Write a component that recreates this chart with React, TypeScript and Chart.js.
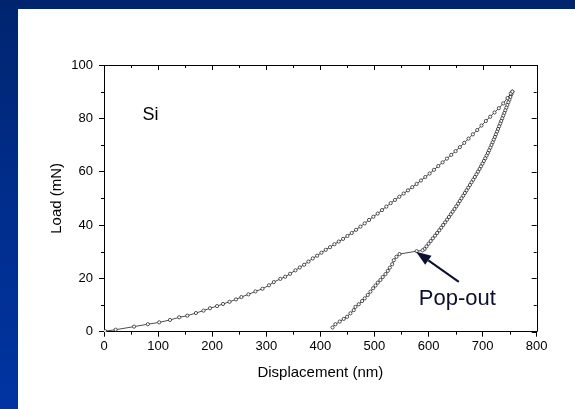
import React, { useEffect, useRef } from "react";
import { Chart, registerables } from "chart.js";

Chart.register(...registerables);

const xTickValues = [0, 100, 200, 300, 400, 500, 600, 700, 800];
const yTickValues = [0, 20, 40, 60, 80, 100];
const xAxisTitle = "Displacement (nm)";
const yAxisTitle = "Load (mN)";

const loadingDisplacement = [
  0, 2, 21.6, 55.5, 81, 102, 122, 139, 154, 170, 184, 196, 209, 220, 232, 244, 254, 267, 280, 293, 305, 314, 326, 335, 344, 354, 362,
  370, 378, 386, 394, 402, 410, 418, 426, 434, 442, 450, 458, 466, 474, 482, 490, 498, 506, 514, 522, 530, 538, 546, 554, 562, 570,
  578, 586, 594, 602, 610, 618, 626, 634, 642, 650, 658, 666, 674, 682, 690, 698, 706, 714, 722, 730, 738, 746, 752, 755,
];
const loadingLoad = [
  0, 0.2, 0.75, 1.9, 2.8, 3.5, 4.4, 5.4, 6.0, 7.0, 7.9, 8.8, 9.6, 10.4, 11.2, 12.1, 13.0, 14.0, 15.1, 16.1, 17.4, 18.6, 19.8, 20.6, 21.7, 23.0, 24.1,
  25.1, 26.3, 27.5, 28.5, 29.6, 30.7, 31.7, 32.8, 33.8, 34.8, 35.9, 37.0, 38.2, 39.4, 40.6, 41.9, 43.1, 44.3, 45.6, 46.9, 48.2, 49.4, 50.6, 51.8, 53.0, 54.2,
  55.4, 56.7, 58.0, 59.3, 60.7, 62.1, 63.5, 64.9, 66.3, 67.7, 69.2, 70.8, 72.4, 74.0, 75.6, 77.3, 79.0, 80.6, 82.2, 83.8, 85.6, 87.6, 89.3, 90.0,
];

const unloadingDisplacement = [
  755, 753.2, 751.3, 749.5, 747.6, 745.7, 743.9, 742.0, 740.1, 738.2, 736.3, 734.4, 732.5, 730.5, 728.5, 726.6, 724.6, 722.6, 720.6,
  718.5, 716.4, 714.3, 712.0, 709.7, 707.3, 704.8, 702.3, 699.7, 697.0, 694.3, 691.4, 688.5, 685.6, 682.6, 679.5, 676.5, 673.4, 670.3,
  667.2, 664.1, 660.9, 657.8, 654.6, 651.3, 648.0, 644.6, 641.2, 637.7, 634.2, 630.7, 627.1, 623.4, 619.7, 615.9, 612.0, 608.0, 604.0,
  600.1, 596.3, 592.6, 589, 578,
  546.3, 540.7, 535.8, 532.8, 528.4, 524.7, 520.4, 515.4, 511.1, 506.2, 501.9, 497.6, 492.6, 487.7, 482.1, 477.2, 471, 464.8, 461.7,
  455.6, 449.4, 443.2, 435.8, 427.8, 422.5,
];
const unloadingLoad = [
  90, 89, 88, 87, 86, 85, 84, 83, 82, 81, 80, 79, 78, 77, 76, 75, 74, 73, 72,
  71, 70, 69, 68, 67, 66, 65, 64, 63, 62, 61, 60, 59, 58, 57, 56, 55, 54, 53,
  52, 51, 50, 49, 48, 47, 46, 45, 44, 43, 42, 41, 40, 39, 38, 37, 36, 35, 34,
  33, 32, 31, 30.5, 30.2,
  29.1, 28.1, 26.8, 25.3, 24.0, 22.8, 21.6, 20.5, 19.4, 18.4, 17.3, 16.3, 15.0, 13.8, 12.5, 11.5, 10.3, 9.3, 8.1,
  6.9, 5.6, 4.8, 3.8, 2.8, 1.6,
];

const sampleLabel = "Si";
const sampleLabelAt = { x: 71, y: 79.4 };
const popOutLabel = "Pop-out";
const popOutLabelAt = { x: 582, y: 10.0 };
const popOutArrowTip = { x: 577, y: 30.0 };
const popOutArrowTail = { x: 656, y: 18.7 };

const FONT = "'Liberation Sans', Arial, Helvetica, sans-serif";

const decorPlugin = {
  id: "decor",
  afterDraw(chart: any) {
    const { ctx, chartArea: a, scales } = chart;
    const x = scales.x;
    const y = scales.y;
    ctx.save();
    ctx.strokeStyle = "#000";
    ctx.lineWidth = 1;
    ctx.beginPath();
    ctx.moveTo(a.left, Math.round(a.top) + 0.5);
    ctx.lineTo(Math.round(a.right) + 0.5, Math.round(a.top) + 0.5);
    ctx.lineTo(Math.round(a.right) + 0.5, a.bottom);
    ctx.stroke();

    ctx.beginPath();
    for (let v = 0; v <= 800; v += 50) {
      const px = Math.round(x.getPixelForValue(v)) + 0.5;
      const major = v % 100 === 0;
      if (!major) {
        ctx.moveTo(px, a.bottom);
        ctx.lineTo(px, a.bottom + 3);
      }
      ctx.moveTo(px, a.top);
      ctx.lineTo(px, a.top + (major ? 5 : 3));
    }
    for (let v = 0; v <= 100; v += 10) {
      const py = Math.round(y.getPixelForValue(v)) + 0.5;
      const major = v % 20 === 0;
      if (!major) {
        ctx.moveTo(a.left, py);
        ctx.lineTo(a.left - 3, py);
      }
      ctx.moveTo(a.right, py);
      ctx.lineTo(a.right - (major ? 5 : 3), py);
    }
    ctx.stroke();

    // labels
    ctx.fillStyle = "#000";
    ctx.font = `18px ${FONT}`;
    ctx.textAlign = "left";
    ctx.textBaseline = "alphabetic";
    ctx.fillText(sampleLabel, x.getPixelForValue(sampleLabelAt.x), y.getPixelForValue(sampleLabelAt.y));

    ctx.fillStyle = "#0b1030";
    ctx.font = `22px ${FONT}`;
    ctx.fillText(popOutLabel, x.getPixelForValue(popOutLabelAt.x), y.getPixelForValue(popOutLabelAt.y));

    // arrow
    const tx = x.getPixelForValue(popOutArrowTip.x);
    const ty = y.getPixelForValue(popOutArrowTip.y);
    const sx = x.getPixelForValue(popOutArrowTail.x);
    const sy = y.getPixelForValue(popOutArrowTail.y);
    const ang = Math.atan2(ty - sy, tx - sx);
    const headLen = 15;
    const headHalf = 5.5;
    const bx = tx - headLen * Math.cos(ang);
    const by = ty - headLen * Math.sin(ang);
    ctx.strokeStyle = "#0b1030";
    ctx.lineWidth = 2;
    ctx.beginPath();
    ctx.moveTo(sx, sy);
    ctx.lineTo(bx, by);
    ctx.stroke();
    ctx.beginPath();
    ctx.moveTo(tx, ty);
    ctx.lineTo(bx + headHalf * Math.sin(ang), by - headHalf * Math.cos(ang));
    ctx.lineTo(bx - headHalf * Math.sin(ang), by + headHalf * Math.cos(ang));
    ctx.closePath();
    ctx.fillStyle = "#0b1030";
    ctx.fill();
    ctx.restore();
  },
};

export default function App() {
  const canvasRef = useRef<HTMLCanvasElement | null>(null);

  useEffect(() => {
    if (!canvasRef.current) return;
    const loading = loadingDisplacement.map((h, i) => ({ x: h, y: loadingLoad[i] }));
    const unloading = unloadingDisplacement.map((h, i) => ({ x: h, y: unloadingLoad[i] }));
    const seriesStyle = {
      showLine: true,
      borderColor: "#000",
      borderWidth: 0.7,
      pointRadius: 1.6,
      pointBackgroundColor: "#fff",
      pointBorderColor: "#111",
      pointBorderWidth: 0.7,
      tension: 0,
    };
    const chart = new Chart(canvasRef.current, {
      type: "scatter",
      data: {
        datasets: [
          { label: "Loading", data: loading, ...seriesStyle },
          { label: "Unloading", data: unloading, ...seriesStyle },
        ],
      },
      plugins: [decorPlugin],
      options: {
        responsive: false,
        animation: false,
        layout: { padding: { top: 65, right: 38.3, left: 48, bottom: 27 } },
        plugins: { legend: { display: false }, tooltip: { enabled: false } },
        scales: {
          x: {
            type: "linear",
            min: 0,
            max: 800,
            afterBuildTicks: (scale: any) => {
              scale.ticks = xTickValues.map((v) => ({ value: v }));
            },
            afterFit: (scale: any) => {
              scale.height = 50.3;
            },
            ticks: { color: "#000", font: { family: FONT, size: 13 }, padding: 2, maxRotation: 0, autoSkip: false },
            grid: { display: true, drawOnChartArea: false, drawTicks: true, tickLength: 5, color: "#000", lineWidth: 1 },
            border: { display: true, color: "#000", width: 1 },
            title: { display: true, text: xAxisTitle, color: "#000", font: { family: FONT, size: 15 }, padding: 0 },
          },
          y: {
            type: "linear",
            min: 0,
            max: 100,
            afterBuildTicks: (scale: any) => {
              scale.ticks = yTickValues.map((v) => ({ value: v }));
            },
            afterFit: (scale: any) => {
              scale.width = 56;
            },
            ticks: { color: "#000", font: { family: FONT, size: 13 }, padding: 6, autoSkip: false },
            grid: { display: true, drawOnChartArea: false, drawTicks: true, tickLength: 5, color: "#000", lineWidth: 1 },
            border: { display: true, color: "#000", width: 1 },
            title: { display: true, text: yAxisTitle, color: "#000", font: { family: FONT, size: 15 }, padding: 0 },
          },
        },
      },
    });
    return () => chart.destroy();
  }, []);

  return (
    <div style={{ position: "fixed", left: 0, top: 0, width: 575, height: 409, background: "#fff", overflow: "hidden" }}>
      <div style={{ position: "absolute", left: 0, top: 0, width: 575, height: 9, background: "#00256f" }} />
      <div
        style={{
          position: "absolute",
          left: 0,
          top: 0,
          width: 18,
          height: 409,
          background: "linear-gradient(to bottom, #00256f 0%, #002d8a 45%, #0034a2 100%)",
        }}
      />
      <canvas ref={canvasRef} width={575} height={409} style={{ position: "absolute", left: 0, top: 0 }} />
    </div>
  );
}
